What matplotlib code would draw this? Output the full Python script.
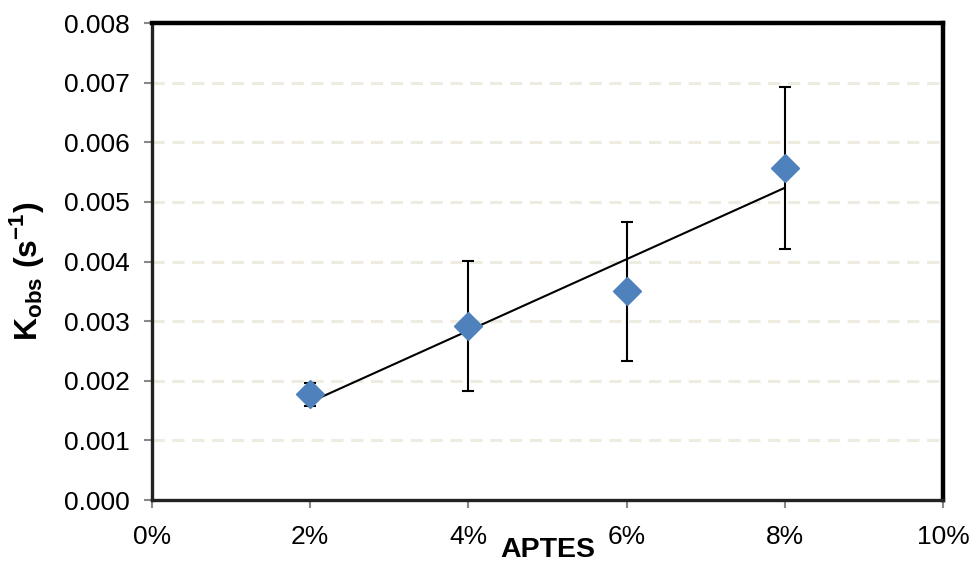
import numpy as np
import matplotlib
matplotlib.use("Agg")
import matplotlib.pyplot as plt
from matplotlib.ticker import FuncFormatter, MultipleLocator

plt.rcParams['font.family'] = ['Liberation Sans', 'DejaVu Sans']
plt.rcParams['mathtext.fontset'] = 'custom'
plt.rcParams['mathtext.rm'] = 'Liberation Sans'
plt.rcParams['mathtext.bf'] = 'Liberation Sans:bold'

# APTES concentration (%) and observed rate constants
aptes_pct = [2, 4, 6, 8]
k_obs = [0.00177, 0.00292, 0.00350, 0.00557]
k_err = [0.00019, 0.00109, 0.00117, 0.00136]

fig = plt.figure(figsize=(9.71, 5.62), dpi=100)
ax = fig.add_axes([0.1565, 0.1103, 0.8147, 0.8487])

ax.set_xlim(0, 10)
ax.set_ylim(0, 0.008)
ax.yaxis.set_major_locator(MultipleLocator(0.001))
ax.xaxis.set_major_locator(MultipleLocator(2))

# horizontal dashed gridlines
ax.yaxis.grid(True, color='#EEECE1', linestyle=(0, (4, 2.5)), linewidth=2.2)
ax.set_axisbelow(True)

# linear trend line
slope, intercept = np.polyfit(aptes_pct, k_obs, 1)
xs = np.array([aptes_pct[0], aptes_pct[-1]])
ax.plot(xs, slope * xs + intercept, color='black', linewidth=1.5, zorder=3)

ax.errorbar(aptes_pct, k_obs, yerr=k_err, fmt='none', ecolor='black',
            elinewidth=1.5, capsize=4.6, capthick=1.5, zorder=4)
ax.plot(aptes_pct, k_obs, linestyle='none', marker='D', markersize=14,
        color='#4F81BD', markeredgecolor='#4F81BD', zorder=5)

ax.xaxis.set_major_formatter(FuncFormatter(lambda v, p: f"{v:.0f}%"))
ax.yaxis.set_major_formatter(FuncFormatter(lambda v, p: f"{v:.3f}"))

for side in ('top', 'right'):
    ax.spines[side].set_linewidth(3.2)
    ax.spines[side].set_color('black')
for side in ('left', 'bottom'):
    ax.spines[side].set_linewidth(2.4)
    ax.spines[side].set_color('#222222')

ax.tick_params(axis='both', which='major', direction='out', length=6,
               width=1.5, color='#888888', labelsize=19, labelcolor='black')
ax.tick_params(axis='x', pad=12)
ax.tick_params(axis='y', pad=10)

ax.set_xlabel('APTES', fontsize=20.5, fontweight='bold', labelpad=-9)
ax.set_ylabel(r'K$_\mathbf{obs}$ (s$^\mathbf{-1}$)', fontsize=23,
              fontweight='bold')
ax.yaxis.set_label_coords(-0.1335, 0.48)

fig.savefig('out.png', dpi=100)
